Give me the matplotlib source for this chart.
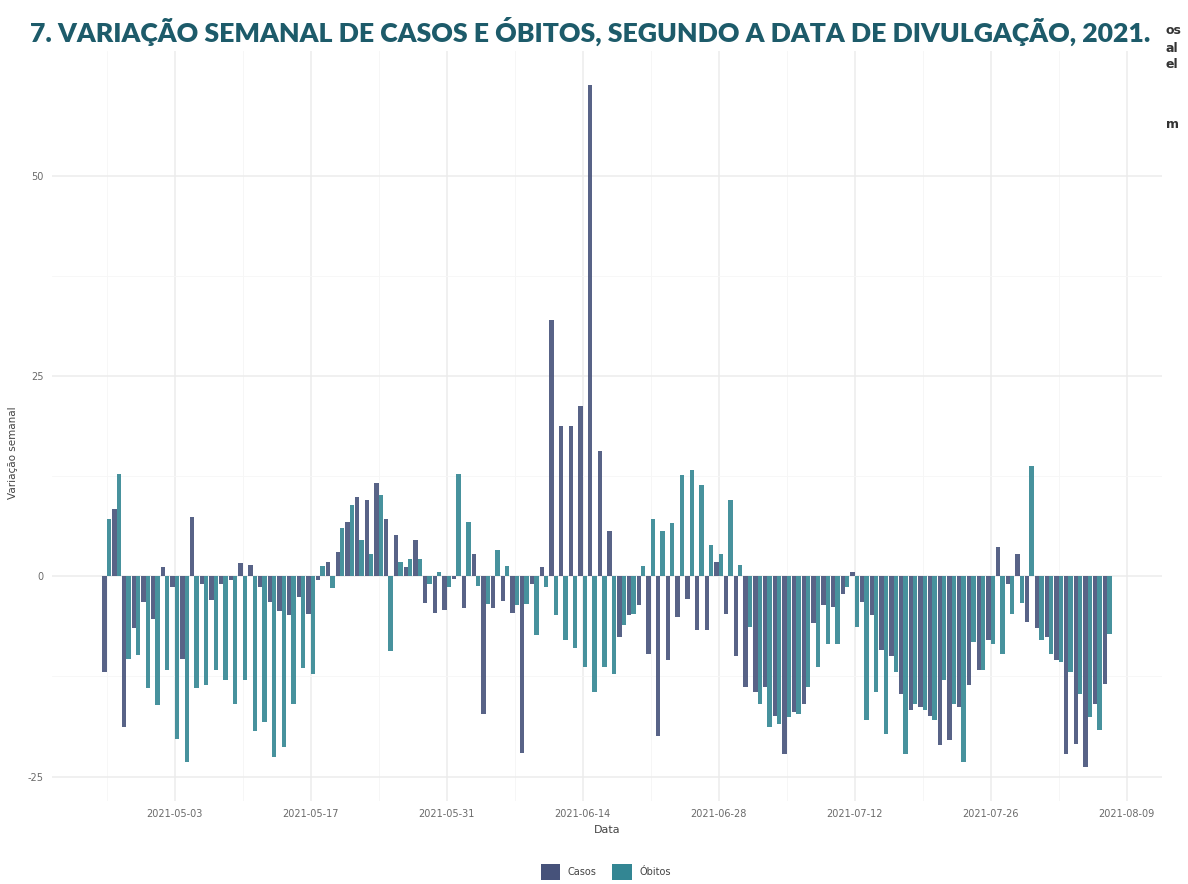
import numpy as np
import matplotlib.pyplot as plt
import matplotlib.dates as mdates
from matplotlib.patches import Patch

plt.rcParams['axes.unicode_minus'] = False

# dias de divulgacao (2021-04-26 a 2021-08-07)
dias = np.arange(np.datetime64('2021-04-26'), np.datetime64('2021-08-08'))

# variacao semanal (%) - casos
casos = [-12.0, 8.4, -18.8, -6.5, -3.2, -5.3, 1.1, -1.3, -10.3, 7.4,
         -1.0, -3.0, -1.0, -0.5, 1.7, 1.4, -1.3, -3.2, -4.3, -4.9,
         -2.6, -4.7, -0.5, 1.8, 3.0, 6.8, 9.9, 9.5, 11.6, 7.2,
         5.1, 1.2, 4.5, -3.4, -4.6, -4.2, -0.3, -4.0, 2.8, -17.2,
         -4.0, -3.1, -4.6, -22.1, -1.0, 1.2, 32.0, 18.8, 18.8, 21.2,
         61.3, 15.6, 5.7, -7.6, -4.9, -3.6, -9.7, -19.9, -10.5, -5.1,
         -2.8, -6.75, -6.75, 1.8, -4.7, -9.9, -13.8, -14.5, -13.8, -17.4,
         -22.2, -17.0, -16.0, -5.9, -3.6, -3.8, -2.2, 0.5, -3.2, -4.9,
         -9.25, -10.0, -14.7, -16.75, -16.3, -17.4, -21.1, -20.5, -16.3, -13.6,
         -11.75, -8.0, 3.7, -1.0, 2.8, -5.7, -6.5, -7.6, -10.5, -22.2,
         -20.9, -23.8, -16.0, -13.4]

# variacao semanal (%) - obitos
obitos = [7.2, 12.8, -10.3, -9.8, -14.0, -16.1, -11.75, -20.3, -23.2, -14.0,
          -13.6, -11.75, -13.0, -15.9, -13.0, -19.3, -18.2, -22.6, -21.3, -15.9,
          -11.5, -12.2, 1.25, -1.5, 6.0, 8.9, 4.5, 2.8, 10.1, -9.3,
          1.8, 2.2, 2.2, -1.0, 0.5, -1.3, 12.8, 6.8, -1.2, -3.5,
          3.3, 1.3, -3.6, -3.5, -7.3, -1.3, -4.8, -8.0, -8.9, -11.3,
          -14.5, -11.3, -12.2, -6.1, -4.7, 1.25, 7.2, 5.7, 6.7, 12.6,
          13.2, 11.4, 3.9, 2.8, 9.5, 1.4, -6.3, -15.9, -18.8, -18.4,
          -17.6, -17.2, -13.8, -11.3, -8.4, -8.4, -1.3, -6.3, -18.0, -14.5,
          -19.7, -12.0, -22.2, -15.9, -16.75, -18.0, -13.0, -16.0, -23.2, -8.2,
          -11.75, -8.4, -9.7, -4.7, -3.4, 13.7, -8.0, -9.7, -10.7, -12.0,
          -14.7, -17.6, -19.25, -7.2]

datas_ticks = ['2021-05-03', '2021-05-17', '2021-05-31', '2021-06-14',
               '2021-06-28', '2021-07-12', '2021-07-26', '2021-08-09']
y_ticks = [-25, 0, 25, 50]

titulo = '7. VARIAÇÃO SEMANAL DE CASOS E ÓBITOS, SEGUNDO A DATA DE DIVULGAÇÃO, 2021.'
cor_casos = '#46527a'
cor_obitos = '#338693'
cor_titulo = '#1d5b6a'

fig = plt.figure(figsize=(11.88, 8.84), dpi=100)
ax = fig.add_axes([52 / 1188, 1 - 801 / 884, 1110 / 1188, 750 / 884])

x = mdates.date2num(dias.astype('datetime64[D]').astype(object))
ax.bar(x - 0.225, casos, width=0.45, color=cor_casos, alpha=0.9, linewidth=0, zorder=3)
ax.bar(x + 0.225, obitos, width=0.45, color=cor_obitos, alpha=0.9, linewidth=0, zorder=3)

tx = mdates.date2num(np.array(datas_ticks, dtype='datetime64[D]').astype(object))
ax.set_xticks(tx)
ax.set_xticklabels(datas_ticks)
ax.set_xticks(np.concatenate([tx - 7, tx + 7]), minor=True)
ax.set_yticks(y_ticks)
ax.set_yticklabels([str(v) for v in y_ticks])
ax.set_yticks([-12.5, 12.5, 37.5], minor=True)

# limites como no ggplot (expansao de 5%), depois dos ticks
lo, hi = x[0] - 0.45, x[-1] + 0.45
pad = 0.05 * (hi - lo)
ax.set_xlim(lo - pad, hi + pad)
vals = casos + obitos
ymin, ymax = min(vals), max(vals)
ypad = 0.05 * (ymax - ymin)
ax.set_ylim(ymin - ypad, ymax + ypad)

ax.grid(which='major', color='#ececec', linewidth=1.1, zorder=0)
ax.grid(which='minor', color='#f6f6f6', linewidth=0.6, zorder=0)
for s in ax.spines.values():
    s.set_visible(False)
ax.tick_params(which='both', length=0, labelsize=7, labelcolor='#6a6a6a', pad=6)

ax.set_xlabel('Data', fontsize=8, color='#444444', labelpad=4)
ax.set_ylabel('Variação semanal', fontsize=7.5, color='#444444')
ax.yaxis.set_label_coords(-0.031, 0.465)

handles = [Patch(facecolor=cor_casos, edgecolor='none'),
           Patch(facecolor=cor_obitos, edgecolor='none')]
fig.legend(handles, ['Casos', 'Óbitos'], loc='center', bbox_to_anchor=(0.51, 1 - 872 / 884),
           ncol=2, frameon=False, fontsize=7, handlelength=2.0, handleheight=2.3,
           columnspacing=1.6, handletextpad=0.8, labelcolor='#444444')

t = fig.text(30 / 1188, 1 - 31 / 884, titulo, fontsize=18, fontweight='heavy',
             family='Lato', color=cor_titulo, va='center', ha='left')
fig.canvas.draw()
w = t.get_window_extent().width
t.set_fontsize(18 * 1120 / w)

# restos de texto cortado na margem direita
for txt, yy in [('os', 30), ('al', 48), ('el', 64), ('m', 125)]:
    fig.text(1166 / 1188, 1 - yy / 884, txt, fontsize=9, color='#333333',
             fontweight='bold', va='center', ha='left')

fig.savefig('out.png', dpi=100)
